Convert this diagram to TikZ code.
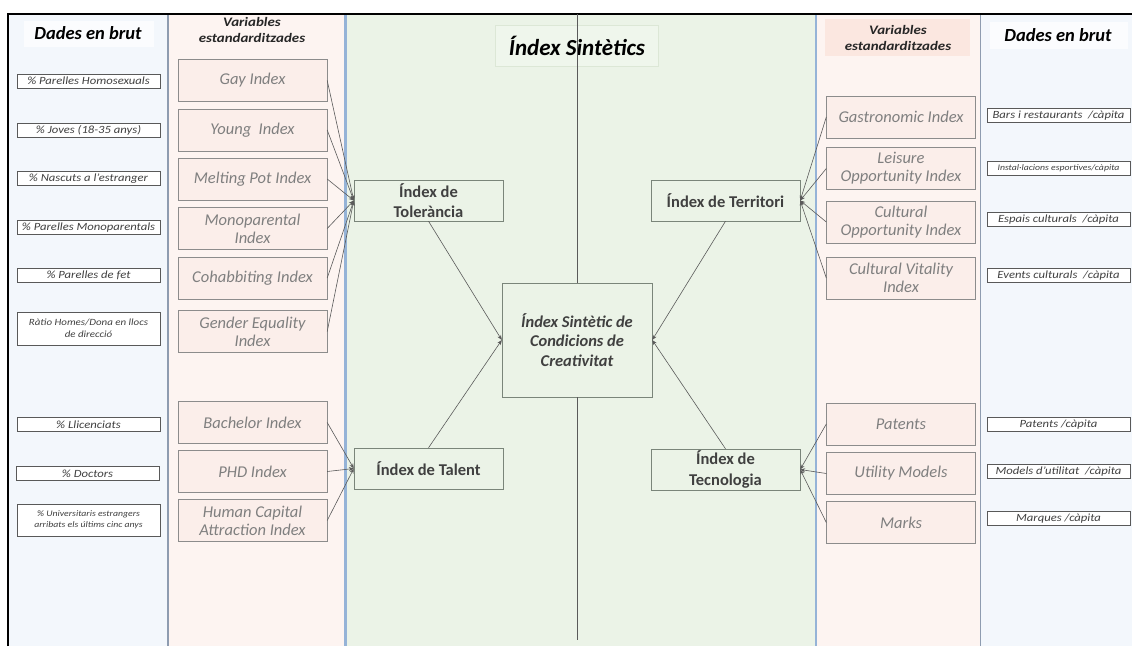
\documentclass[tikz,border=0pt]{standalone}
\usepackage{fontspec}
\setmainfont{Carlito}
\newfontfamily\widefont[FakeStretch=1.15]{Carlito}
\usetikzlibrary{arrows.meta}

\definecolor{colblue}{HTML}{F3F7FC}
\definecolor{colpink}{HTML}{FDF4F1}
\definecolor{colgreen}{HTML}{EBF3E7}
\definecolor{sepblue}{HTML}{95B3D7}
\definecolor{sepgray}{HTML}{8E9CB0}
\definecolor{varfill}{HTML}{FBEEEA}
\definecolor{varline}{HTML}{8C8C8C}
\definecolor{vartext}{HTML}{7F7F7F}
\definecolor{rawline}{HTML}{595959}
\definecolor{rawtext}{HTML}{404040}
\definecolor{idxline}{HTML}{7A857A}
\definecolor{idxtext}{HTML}{404040}
\definecolor{linkgray}{HTML}{5A5A5A}
\definecolor{headpink}{HTML}{FBE7E0}
\definecolor{titlefill}{HTML}{EFF6EC}
\definecolor{titleline}{HTML}{DCE7D6}

\newcommand\vw{149pt}
\newcommand\rw{143pt}

\begin{document}
\begin{tikzpicture}[
			x=1pt,y=-1pt,
			rawbox/.style={draw=rawline,fill=white,minimum width=\rw,minimum height=14pt,inner sep=0pt,
				font=\widefont\fontsize{11}{11.5}\selectfont\itshape,text=rawtext,align=center},
			varbox/.style={draw=varline,fill=varfill,minimum width=\vw,minimum height=42pt,inner sep=1pt,
				font=\fontsize{16.5}{18}\selectfont\itshape,text=vartext,align=center},
			idxbox/.style={draw=idxline,fill=colgreen,minimum width=\vw,minimum height=41pt,inner sep=1pt,
				font=\fontsize{16.5}{20.5}\selectfont\bfseries,text=idxtext,align=center},
			head/.style={font=\fontsize{18.5}{20}\selectfont\bfseries\itshape,text=black},
			subhead/.style={font=\widefont\fontsize{13}{16}\selectfont\bfseries\itshape,text=black!85,align=center},
			link/.style={draw=linkgray,line width=0.6pt,-{Stealth[length=5pt,width=4pt]}}
		]
		\useasboundingbox (0,0) rectangle (1132,646);
		% column backgrounds
		\fill[colblue] (9,14) rectangle (168,646);
		\fill[colpink] (168,14) rectangle (345,646);
		\fill[colgreen] (345,14) rectangle (816,646);
		\fill[colpink] (816,14) rectangle (980,646);
		\fill[colblue] (980,14) rectangle (1132,646);
		\fill[white,opacity=0.7] (24,21) rectangle (154,47);
		\fill[white,opacity=0.7] (990,22) rectangle (1128,49);
		\fill[headpink] (825,19) rectangle (970,56);
		% separators and frame
		\draw[sepgray,line width=1.5pt] (168,14) -- (168,646);
		\draw[sepblue,line width=2.5pt] (345.5,14) -- (345.5,646);
		\draw[sepblue,line width=2.5pt] (816,14) -- (816,646);
		\draw[sepgray,line width=1.5pt] (980.5,14) -- (980.5,646);
		\draw[black,line width=2pt] (8,646) -- (8,14) -- (1132,14);

		% headers
		\node [head] (h1) at (88,33) {Dades en brut};
		\node [subhead] (h2) at (252,30) {Variables\\estandarditzades};
		\node [subhead] (h3) at (898,38) {Variables\\estandarditzades};
		\node [head] (h4) at (1058,35) {Dades en brut};
		\node [draw=titleline,fill=titlefill,minimum width=163pt,minimum height=41pt,
			font=\fontsize{23}{24}\selectfont\bfseries\itshape] (tit) at (577,45.5) {Índex Sintètics};

		% raw data, left
		\node [rawbox] (d1) at (88.5,81) {\% Parelles Homosexuals};
		\node [rawbox] (d2) at (88.5,130.5) {\% Joves (18-35 anys)};
		\node [rawbox] (d3) at (88.5,178.5) {\% Nascuts a l’estranger};
		\node [rawbox] (d4) at (88.5,227.5) {\% Parelles Monoparentals};
		\node [rawbox] (d5) at (88.5,275.5) {\% Parelles de fet};
		\node [rawbox,minimum height=33pt,font=\widefont\fontsize{9.5}{12}\selectfont\itshape] (d6) at (88.5,328.5) {Ràtio Homes/Dona en llocs\\de direcció};
		\node [rawbox] (d7) at (88.5,424.5) {\% Llicenciats};
		\node [rawbox] (d8) at (87.5,473.5) {\% Doctors};
		\node [rawbox,minimum height=32pt,font=\widefont\fontsize{8.5}{11.5}\selectfont\itshape] (d9) at (88.5,520) {\% Universitaris estrangers\\arribats els últims cinc anys};

		% standardised variables, left
		\node [varbox] (v1) at (252.5,80.5) {Gay Index};
		\node [varbox] (v2) at (252.5,130) {Young\ \ Index};
		\node [varbox] (v3) at (252.5,179) {Melting Pot Index};
		\node [varbox] (v4) at (252.5,228.5) {Monoparental\\Index};
		\node [varbox] (v5) at (252.5,278) {Cohabbiting Index};
		\node [varbox] (v6) at (252.5,331.5) {Gender Equality\\Index};
		\node [varbox] (v7) at (252.5,422.5) {Bachelor Index};
		\node [varbox] (v8) at (252.5,471.5) {PHD Index};
		\node [varbox] (v9) at (252.5,520.5) {Human Capital\\Attraction Index};

		% synthetic indexes
		\node [idxbox] (tol) at (428.5,200.5) {Índex de\\Tolerància};
		\node [idxbox] (ter) at (725.5,200.5) {Índex de Territori};
		\node [idxbox] (tal) at (428.5,468.5) {Índex de Talent};
		\node [idxbox] (tec) at (725.5,469.5) {Índex de\\Tecnologia};
		\node [idxbox,minimum width=150pt,minimum height=114pt,font=\fontsize{16.5}{19.5}\selectfont\bfseries\itshape] (isc) at (577,340)
			{Índex Sintètic de\\Condicions de\\Creativitat};

		% standardised variables, right
		\node [varbox] (w1) at (901,117) {Gastronomic Index};
		\node [varbox] (w2) at (901,168.5) {Leisure\\Opportunity Index};
		\node [varbox] (w3) at (901,222) {Cultural\\Opportunity Index};
		\node [varbox] (w4) at (901,278) {Cultural Vitality\\Index};
		\node [varbox] (w5) at (901,424) {Patents};
		\node [varbox] (w6) at (901,473.5) {Utility Models};
		\node [varbox] (w7) at (901,522.5) {Marks};

		% raw data, right
		\node [rawbox] (e1) at (1058.5,115.5) {Bars i restaurants\ \ /càpita};
		\node [rawbox,font=\widefont\fontsize{8.5}{10}\selectfont\itshape] (e2) at (1058.5,168.5) {Instal·lacions esportives/càpita};
		\node [rawbox] (e3) at (1058.5,219.5) {Espais culturals\ \ /càpita};
		\node [rawbox] (e4) at (1058.5,275.5) {Events culturals\ \ /càpita};
		\node [rawbox] (e5) at (1058.5,424.5) {Patents /càpita};
		\node [rawbox] (e6) at (1058.5,471.5) {Models d’utilitat\ \ /càpita};
		\node [rawbox] (e7) at (1058.5,518.5) {Marques /càpita};

		% central axis
		\coordinate (ctop) at (577,14);
		\coordinate (cbot) at (577,640);
		\draw[linkgray,line width=0.6pt] (ctop) -- (isc.north);
		\draw[linkgray,line width=0.6pt] (isc.south) -- (cbot);

		\foreach \v in {v1,v2,v3,v4,v5,v6}
			\draw[link] (\v.east) -- (tol.west);
		\foreach \v in {v7,v8,v9}
			\draw[link] (\v.east) -- (tal.west);
		\foreach \w in {w1,w2,w3,w4}
			\draw[link] (\w.west) -- (ter.east);
		\foreach \w in {w5,w6,w7}
			\draw[link] (\w.west) -- (tec.east);

		\draw[link] (tol.south) -- (isc.west);
		\draw[link] (tal.north) -- (isc.west);
		\draw[link] (ter.south) -- (isc.east);
		\draw[link] (tec.north) -- (isc.east);
	\end{tikzpicture}
\end{document}
